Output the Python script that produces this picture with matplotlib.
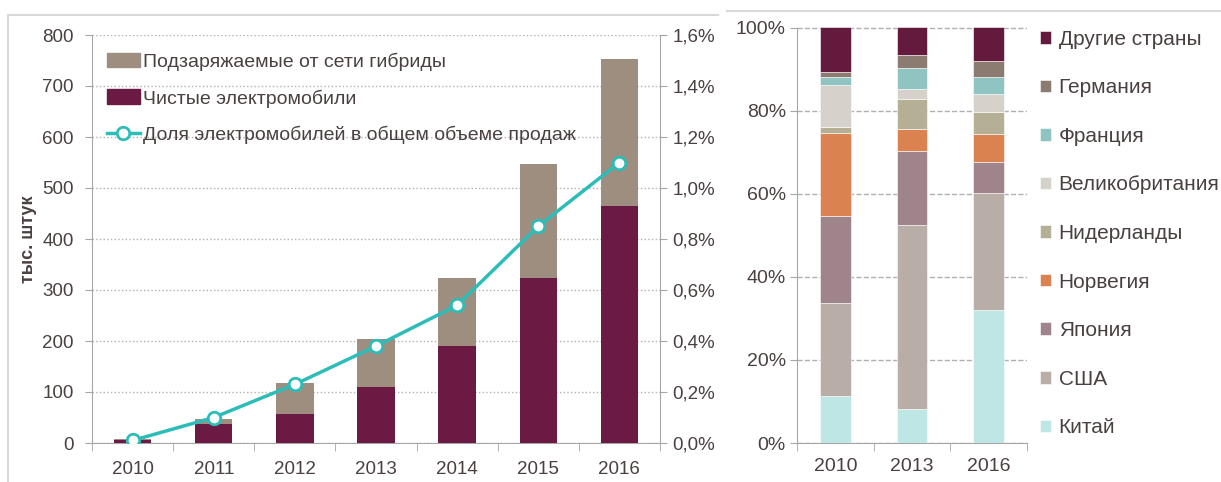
import numpy as np
import matplotlib.pyplot as plt
from matplotlib.patches import Patch
from matplotlib.lines import Line2D
from matplotlib.ticker import FuncFormatter

plt.rcParams['font.family'] = ['Liberation Sans', 'DejaVu Sans']

# left chart data (thousand units, share in %)
years = ['2010', '2011', '2012', '2013', '2014', '2015', '2016']
bev = [5, 37, 57, 110, 190, 324, 464]
total = [8, 47, 118, 204, 324, 547, 752]
phev = [t - b for t, b in zip(total, bev)]
share = [0.01, 0.10, 0.23, 0.38, 0.54, 0.85, 1.10]

# right chart data (% of sales)
years_r = ['2010', '2013', '2016']
countries = ['Китай', 'США', 'Япония', 'Норвегия', 'Нидерланды',
             'Великобритания', 'Франция', 'Германия', 'Другие страны']
shares_r = {
    'Китай':          [11.4, 8.3, 32.1],
    'США':            [22.4, 44.1, 28.0],
    'Япония':         [20.8, 17.8, 7.6],
    'Норвегия':       [19.9, 5.4, 6.7],
    'Нидерланды':     [1.6, 7.3, 5.3],
    'Великобритания': [10.0, 2.4, 4.4],
    'Франция':        [1.9, 5.0, 4.1],
    'Германия':       [1.4, 3.1, 3.7],
    'Другие страны':  [10.6, 6.6, 8.1],
}
colors_r = ['#bde6e5', '#b8aea7', '#a0848c', '#da8350', '#b5b095',
            '#d6d1ca', '#8fc4c3', '#8b7b70', '#631a3c']

txt = '#4a4040'
axc = '#a6a6a6'

fig = plt.figure(figsize=(12.21, 4.82), dpi=100)

# frame lines
fig.add_artist(Line2D([8/1221, 8/1221], [0, 1 - 15/482], color='#d9d9d9', lw=1.5, transform=fig.transFigure))
fig.add_artist(Line2D([8/1221, 718/1221], [1 - 15/482, 1 - 15/482], color='#d9d9d9', lw=1.5, transform=fig.transFigure))
fig.add_artist(Line2D([727/1221, 1], [1 - 11/482, 1 - 11/482], color='#d9d9d9', lw=1.5, transform=fig.transFigure))

# ---- left chart
ax = fig.add_axes([92/1221, 39/482, 568/1221, 408/482])
x = np.arange(len(years))
w = 0.46
ax.bar(x, bev, w, color='#6b1a43', label='Чистые электромобили', zorder=3)
ax.bar(x, phev, w, bottom=bev, color='#9e8e80', label='Подзаряжаемые от сети гибриды', zorder=3)
ax.set_xlim(-0.5, 6.5)
ax.set_ylim(0, 800)
ax.set_yticks(range(0, 801, 100))
ax.grid(axis='y', ls=':', color='#b0b0b0', lw=1, zorder=0)
ax.set_xticks(x)
ax.set_xticklabels(years)
ax.set_xticks(np.arange(-0.5, 7, 1), minor=True)
ax.tick_params(axis='x', which='major', length=0, pad=13, labelsize=13.5, labelcolor=txt)
ax.tick_params(axis='x', which='minor', length=6, color=axc)
ax.tick_params(axis='y', length=5, color=axc, labelsize=13.5, labelcolor=txt, pad=8)
ax.set_ylabel('тыс. штук', fontsize=13, fontweight='bold', color=txt)
ax.yaxis.set_label_coords(-0.097, 0.5)
for s in ['top', 'right']:
    ax.spines[s].set_visible(False)
for s in ['left', 'bottom']:
    ax.spines[s].set_color(axc)

ax2 = ax.twinx()
ax2.plot(x, share, color='#2dbdb9', lw=2.5, marker='o', ms=9, mfc='white', mec='#2dbdb9', mew=2, zorder=5)
ax2.set_ylim(0, 1.6)
ax2.set_yticks(np.arange(0, 1.61, 0.2))
ax2.yaxis.set_major_formatter(FuncFormatter(lambda v, p: f'{v:.1f}%'.replace('.', ',')))
ax2.tick_params(axis='y', length=5, color=axc, labelsize=13.5, labelcolor=txt, pad=4)
for s in ['top', 'left', 'bottom']:
    ax2.spines[s].set_visible(False)
ax2.spines['right'].set_color(axc)

handles = [Patch(color='#9e8e80'), Patch(color='#6b1a43'),
           Line2D([], [], color='#2dbdb9', lw=2.5, marker='o', ms=9, mfc='white', mec='#2dbdb9', mew=2)]
labels = ['Подзаряжаемые от сети гибриды', 'Чистые электромобили', 'Доля электромобилей в общем объеме продаж']
ax2.legend(handles, labels, loc='upper left', bbox_to_anchor=(-0.005, 1.0), frameon=False,
           fontsize=14, labelcolor=txt, handlelength=1.7, handleheight=0.8,
           handletextpad=0.15, labelspacing=0.95)

# ---- right chart
axr = fig.add_axes([797/1221, 39/482, 230/1221, 415.5/482])
xr = np.arange(len(years_r))
bottom = np.zeros(len(years_r))
for c, col in zip(countries, colors_r):
    vals = np.array(shares_r[c])
    axr.bar(xr, vals, 0.40, bottom=bottom, color=col, label=c, zorder=3,
            edgecolor='white', linewidth=0.4)
    bottom += vals
axr.set_xlim(-0.5, 2.5)
axr.set_ylim(0, 100)
axr.set_yticks(range(0, 101, 20))
axr.yaxis.set_major_formatter(FuncFormatter(lambda v, p: f'{v:.0f}%'))
axr.grid(axis='y', ls='--', color='#b0b0b0', lw=1, zorder=0)
axr.set_xticks(xr)
axr.set_xticklabels(years_r)
axr.set_xticks(np.arange(-0.5, 3, 1), minor=True)
axr.tick_params(axis='x', which='major', length=0, pad=11, labelsize=14, labelcolor=txt)
axr.tick_params(axis='x', which='minor', length=6, color=axc)
axr.tick_params(axis='y', length=5, color=axc, labelsize=14, labelcolor=txt, pad=3)
for s in ['top', 'right']:
    axr.spines[s].set_visible(False)
for s in ['left', 'bottom']:
    axr.spines[s].set_color(axc)

h, l = axr.get_legend_handles_labels()
axr.legend(h[::-1], l[::-1], loc='upper left', bbox_to_anchor=(1.02, 1.015), borderaxespad=0,
           frameon=False, fontsize=15, labelcolor=txt, handlelength=0.55, handleheight=0.55,
           handletextpad=0.35, labelspacing=1.42)

fig.savefig('out.png', dpi=100)
